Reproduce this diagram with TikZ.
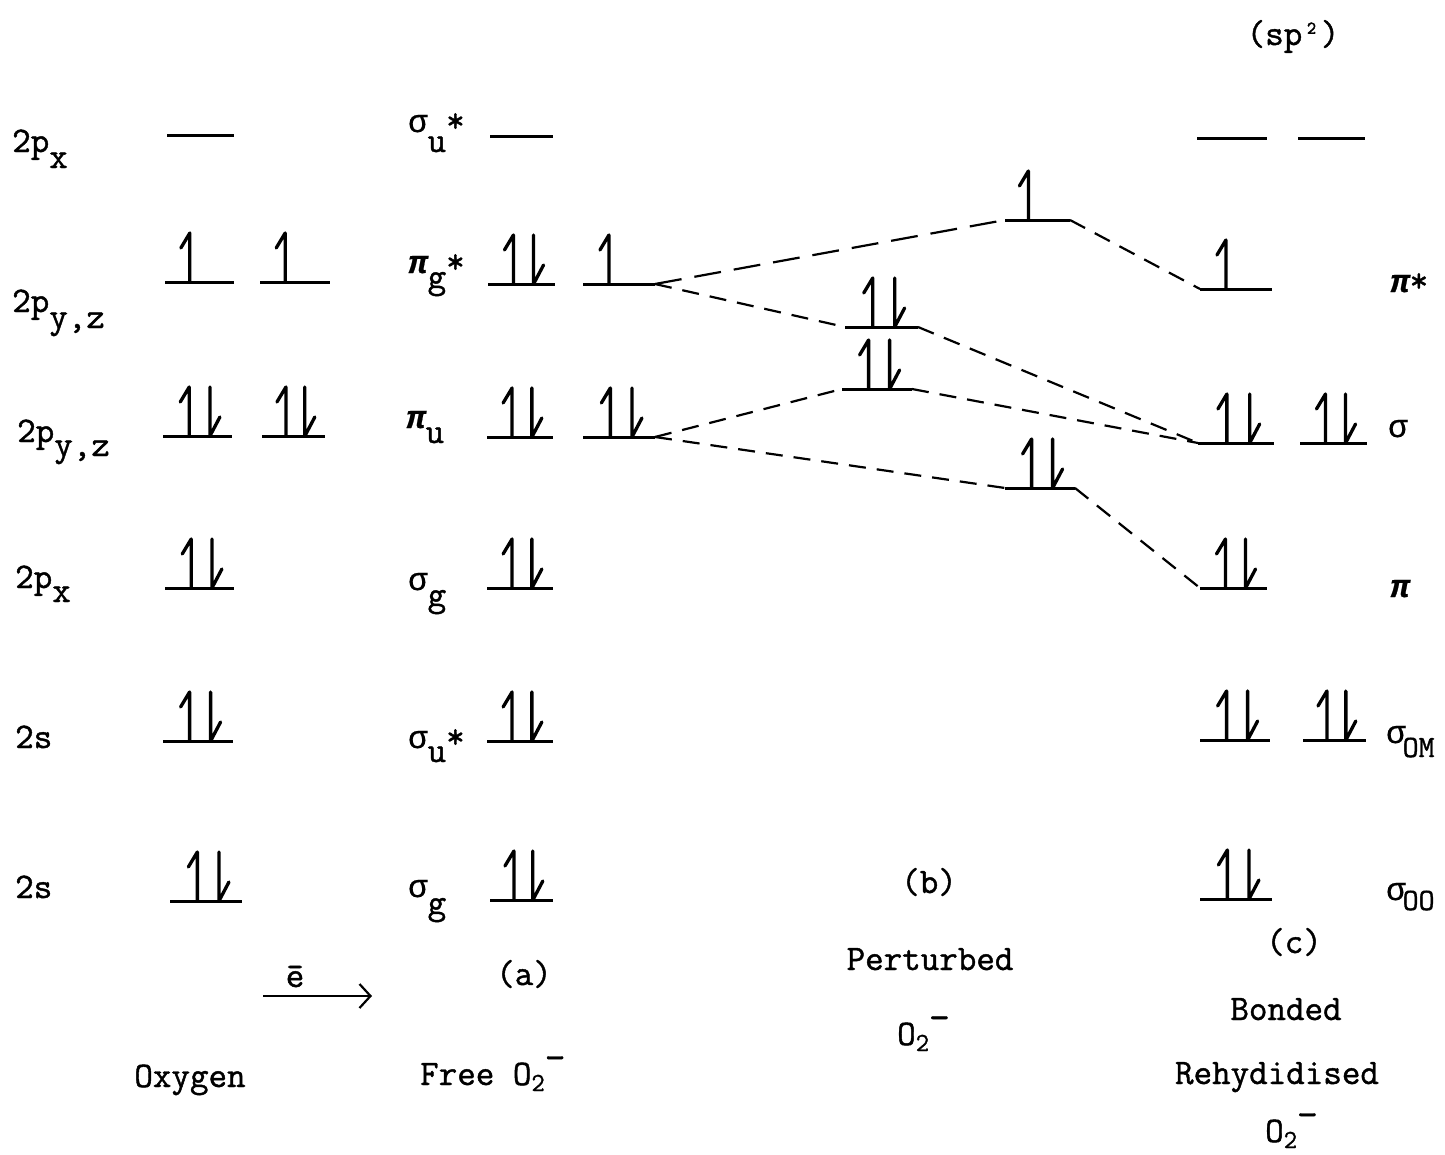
\documentclass[tikz,border=0pt]{standalone}
\usepackage{fontspec}
\newfontfamily\tw[FakeBold=1.2]{Latin Modern Mono}
\newfontfamily\gk[Scale=0.9,FakeBold=0.6]{Liberation Mono}
\usetikzlibrary{arrows.meta}
\tikzset{
  lvl/.style={line width=3pt},
  spin/.style={line width=3.3pt, line cap=round, line join=round},
  conn/.style={line width=2.2pt, dash pattern=on 17pt off 11pt},
  connlong/.style={line width=2.2pt, dash pattern=on 27pt off 13pt},
  lab/.style={inner sep=0pt, font=\tw\fontsize{36}{40}\selectfont},
}
\newcommand\pib{{\gk\bfseries\itshape π}}
\newcommand\sg{{\gk σ}}
\newcommand\osub{\raisebox{-6pt}{\fontsize{26}{28}\selectfont 2}\raisebox{15pt}{\fontsize{40}{40}\selectfont –}}
\newcommand\spinup[2]{\draw[spin] (#1,#2) -- (#1,#2-49) -- (#1-9,#2-34);}
\newcommand\spindn[2]{\draw[spin] (#1,#2-49) -- (#1,#2) -- (#1+10,#2-19);}
\newcommand\lvl[5]{%
  \draw[lvl] (#2,#4) coordinate (#1L) -- (#3,#4) coordinate (#1R);
  \ifnum#5=1\relax \pgfmathsetmacro\xa{#2+0.36*(#3-#2)}\spinup{\xa}{#4}\fi
  \ifnum#5=2\relax \pgfmathsetmacro\xa{#2+0.38*(#3-#2)}\pgfmathsetmacro\xb{#2+0.68*(#3-#2)}\spinup{\xa}{#4}\spindn{\xb}{#4}\fi}
\begin{document}
\begin{tikzpicture}[x=1pt,y=-1pt]
\fill[white] (0,0) rectangle (1445,1154);
\useasboundingbox (0,0) rectangle (1445,1154);
% Oxygen
\lvl{oA}{167}{234}{135}{0}
\lvl{oB}{165}{234}{282}{1}
\lvl{oC}{260}{330}{282}{1}
\lvl{oD}{163}{232}{436}{2}
\lvl{oE}{262}{325}{436}{2}
\lvl{oF}{165}{234}{588}{2}
\lvl{oG}{163}{233}{741}{2}
\lvl{oH}{170}{242}{901}{2}
% Free O2-
\lvl{fA}{490}{553}{136}{0}
\lvl{fB}{488}{555}{284}{2}
\lvl{fC}{583}{655}{284}{1}
\lvl{fD}{487}{553}{437}{2}
\lvl{fE}{583}{655}{437}{2}
\lvl{fF}{487}{553}{588}{2}
\lvl{fG}{487}{553}{741}{2}
\lvl{fH}{490}{553}{900}{2}
% Perturbed
\lvl{pA}{1005}{1070}{220}{1}
\lvl{pB}{845}{918}{327}{2}
\lvl{pC}{842}{912}{389}{2}
\lvl{pD}{1005}{1075}{488}{2}
% Bonded
\lvl{bA}{1197}{1267}{138}{0}
\lvl{bB}{1298}{1365}{138}{0}
\lvl{bC}{1200}{1272}{289}{1}
\lvl{bD}{1198}{1274}{443}{2}
\lvl{bE}{1300}{1367}{443}{2}
\lvl{bF}{1200}{1267}{588}{2}
\lvl{bG}{1200}{1270}{740}{2}
\lvl{bH}{1303}{1366}{740}{2}
\lvl{bI}{1200}{1272}{899}{2}
% connectors
\draw[connlong] (fCR) -- (pAL);
\draw[conn] (pAR) -- (bCL);
\draw[conn] (fCR) -- (pBL);
\draw[conn] (pBR) -- (bDL);
\draw[conn] (fER) -- (pCL);
\draw[conn] (pCR) -- (bDL);
\draw[conn] (fER) -- (pDL);
\draw[conn] (pDR) -- (bFL);
% left labels
\node[lab,anchor=base west] (t1) at (12,152) {2p\raisebox{-16pt}{x}};
\node[lab,anchor=base west] (t2) at (12,312) {2p\raisebox{-16pt}{y,z}};
\node[lab,anchor=base west] (t3) at (17,442) {2p\raisebox{-14pt}{y,z}};
\node[lab,anchor=base west] (t4) at (15,588) {2p\raisebox{-14pt}{x}};
\node[lab,anchor=base west] (t5) at (15,748) {2s};
\node[lab,anchor=base west] (t6) at (15,898) {2s};
% free labels
\node[lab,anchor=base west] (s1) at (408,132) {\sg\raisebox{-20pt}{u}*};
\node[lab,anchor=base west] (s2) at (408,273) {\pib\raisebox{-15pt}{g}*};
\node[lab,anchor=base west] (s3) at (406,428) {\pib\raisebox{-15pt}{u}};
\node[lab,anchor=base west] (s4) at (408,590) {\sg\raisebox{-16pt}{g}};
\node[lab,anchor=base west] (s5) at (408,748) {\sg\raisebox{-14pt}{u}*};
\node[lab,anchor=base west] (s6) at (408,897) {\sg\raisebox{-17pt}{g}};
% right labels
\node[lab,anchor=base] (r0) at (1293,45) {(sp²)};
\node[lab,anchor=base west] (r1) at (1390,292) {\pib*};
\node[lab,anchor=base west] (r2) at (1388,437) {\sg};
\node[lab,anchor=base west] (r3) at (1390,597) {\pib};
\node[lab,anchor=base west] (r4) at (1386,743) {\sg\kern-3pt\raisebox{-14pt}{\fontsize{31}{33}\selectfont OM}};
\node[lab,anchor=base west] (r5) at (1386,900) {\sg\kern-3pt\raisebox{-10pt}{\fontsize{31}{33}\selectfont OO}};
% bottom
\coordinate (ea) at (263,996);
\coordinate (eb) at (372,996);
\draw[line width=2.2pt,-{Straight Barb[length=11pt,width=24pt]}] (ea) -- (eb);
\node[lab,anchor=base] (e) at (295,987) {ē};
\node[lab,anchor=base] (ox) at (190,1087) {Oxygen};
\node[lab,anchor=base west] (fr) at (420,1085) {Free O\osub};
\node[lab,anchor=base] (la) at (524,985) {(a)};
\node[lab,anchor=base] (lb) at (929,893) {(b)};
\node[lab,anchor=base] (pe) at (930,970) {Perturbed};
\node[lab,anchor=base west] (po) at (897,1045) {O\osub};
\node[lab,anchor=base] (lc) at (1294,953) {(c)};
\node[lab,anchor=base] (bo) at (1286,1020) {Bonded};
\node[lab,anchor=base] (re) at (1277,1084) {Rehydidised};
\node[lab,anchor=base west] (bo2) at (1265,1142) {O\osub};
\end{tikzpicture}
\end{document}
